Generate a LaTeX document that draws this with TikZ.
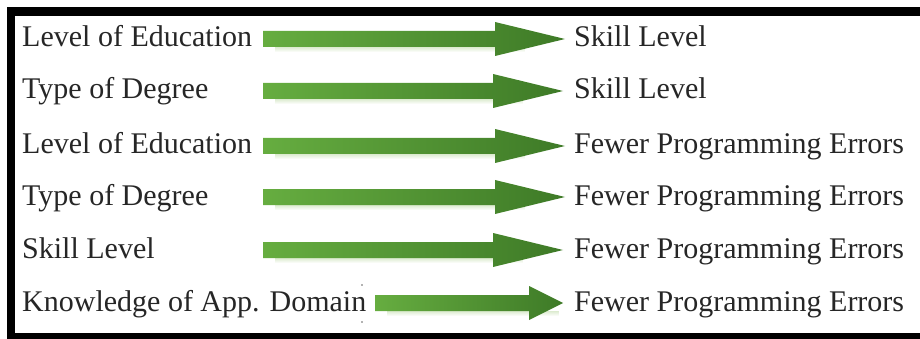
\documentclass[tikz,border=0pt]{standalone}
\usepackage{fontspec}
\setmainfont{Liberation Serif}
\usetikzlibrary{fadings}
\begin{document}
\definecolor{arrowlight}{HTML}{66AD40}
\definecolor{arrowdark}{HTML}{3E7A27}
\definecolor{glow}{HTML}{DCEBCF}
\tikzset{
  label/.style={anchor=base west, inner sep=0pt, text=black!85,
    font=\fontsize{30}{36}\selectfont},
}
% Fat block arrow: #1 start coordinate, #2 end coordinate, #3 head length
\newcommand{\blockarrow}[3]{%
  \fill[glow, path fading=south] ([shift={(12,8)}]#1) rectangle ([shift={(-#3+30,13)}]#2);
  \shade[left color=arrowlight, right color=arrowdark]
    ([shift={(0,-8)}]#1) -- ([shift={(-#3,-8)}]#2) -- ([shift={(-#3,-17)}]#2)
    -- (#2) -- ([shift={(-#3,17)}]#2) -- ([shift={(-#3,8)}]#2)
    -- ([shift={(0,8)}]#1) -- cycle;
}
\begin{tikzpicture}[x=1pt,y=-1pt]
  \useasboundingbox (0,0) rectangle (920,339);
  \begin{scope}
    \clip (0,0) rectangle (920,339);
    \draw[line width=8.5pt] (11,11.5) rectangle (935,337.5);
  \end{scope}

  % source and target labels
  \node[label] (l1) at (22,47)  {Level of Education};
  \node[label] (l2) at (22,99)  {Type of Degree};
  \node[label] (l3) at (22,154) {Level of Education};
  \node[label] (l4) at (22,205) {Type of Degree};
  \node[label] (l5) at (22,258) {Skill Level};
  \node[label] (l6) at (22,311) {Knowledge of App. Domain};

  \node[label] (r1) at (574,47)  {Skill Level};
  \node[label] (r2) at (574,99)  {Skill Level};
  \node[label] (r3) at (574,154) {Fewer Programming Errors};
  \node[label] (r4) at (574,205) {Fewer Programming Errors};
  \node[label] (r5) at (574,258) {Fewer Programming Errors};
  \node[label] (r6) at (574,311) {Fewer Programming Errors};

  % arrow end points
  \coordinate (s1) at (263,39);  \coordinate (e1) at (565,39);
  \coordinate (s2) at (263,91);  \coordinate (e2) at (563,91);
  \coordinate (s3) at (263,146); \coordinate (e3) at (565,146);
  \coordinate (s4) at (263,197); \coordinate (e4) at (565,197);
  \coordinate (s5) at (263,250); \coordinate (e5) at (563,250);
  \coordinate (s6) at (375,303); \coordinate (e6) at (563,303);

  \blockarrow{s1}{e1}{70}
  \blockarrow{s2}{e2}{70}
  \blockarrow{s3}{e3}{70}
  \blockarrow{s4}{e4}{70}
  \blockarrow{s5}{e5}{70}
  \blockarrow{s6}{e6}{34}

  % small marks beside the last label
  \fill[black!60] (362,285) circle (0.8);
  \fill[black!60] (362,322) circle (0.8);
\end{tikzpicture}
\end{document}
